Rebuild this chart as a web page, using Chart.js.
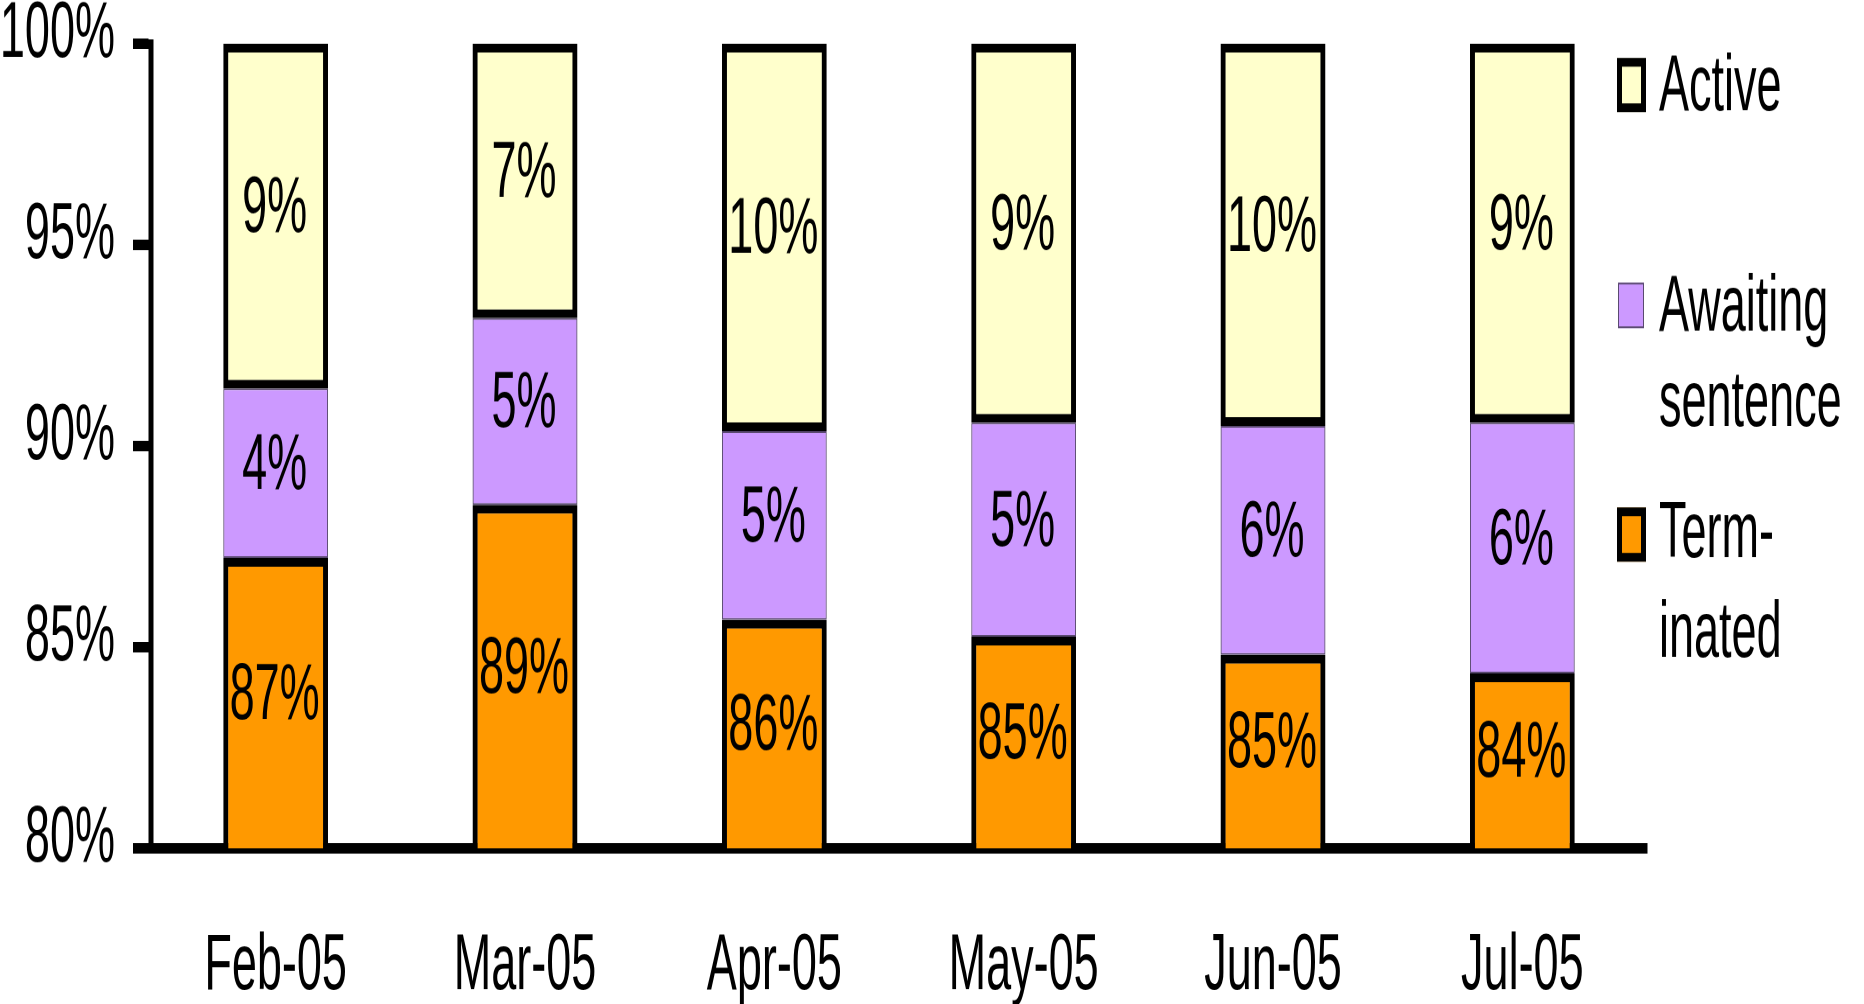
<!DOCTYPE html>
<html>
<head>
<meta charset="utf-8">
<script src="https://cdn.jsdelivr.net/npm/chart.js@4.4.1/dist/chart.umd.min.js"></script>
<style>
  html, body { margin: 0; padding: 0; background: #fff; overflow: hidden; }
</style>
</head>
<body>
<!-- the original picture is stretched vertically: draw it short, show it tall -->
<canvas id="chart" width="1864" height="574" style="display:block;width:1864px;height:1004px"></canvas>
<script>
const months = ['Feb-05', 'Mar-05', 'Apr-05', 'May-05', 'Jun-05', 'Jul-05'];
const terminated = [87.22, 88.54, 85.68, 85.26, 84.81, 84.35];
const awaiting   = [4.21, 4.64, 4.69, 5.32, 5.69, 6.23];
const active     = [8.57, 6.82, 9.63, 9.42, 9.5, 9.42];
const yTicks = [80, 85, 90, 95, 100];
const legendLines = [['Active'], ['Awaiting', 'sentence'], ['Term-', 'inated']];

const FONT = "'Liberation Sans', Arial, sans-serif";
const FONT_SIZE = 45;

// percent label in the middle of the visible part of each segment
const segmentLabels = {
  id: 'segmentLabels',
  afterDatasetsDraw(chart) {
    const { ctx, chartArea } = chart;
    ctx.save();
    ctx.font = `${FONT_SIZE}px ${FONT}`;
    ctx.fillStyle = '#000';
    ctx.textAlign = 'center';
    ctx.textBaseline = 'alphabetic';
    chart.data.datasets.forEach((ds, i) => {
      chart.getDatasetMeta(i).data.forEach((bar, j) => {
        const top = Math.max(Math.min(bar.y, bar.base), chartArea.top);
        const bottom = Math.min(Math.max(bar.y, bar.base), chartArea.bottom);
        ctx.fillText(Math.round(ds.data[j]) + '%', bar.x - 1, (top + bottom) / 2 + 9);
      });
    });
    ctx.restore();
  }
};

// legend on the right, labels wrapped onto two lines
const sideLegend = {
  id: 'sideLegend',
  afterDraw(chart) {
    const { ctx } = chart;
    const boxY = [48.6, 174.6, 305.6];
    const baseY = [[62.9], [189.2, 243.5], [318.5, 375.5]];
    const boxX = 1617, textX = 1659;
    const sets = chart.data.datasets.slice().reverse();
    ctx.save();
    ctx.font = `${FONT_SIZE}px ${FONT}`;
    ctx.textAlign = 'left';
    ctx.textBaseline = 'alphabetic';
    sets.forEach((ds, i) => {
      const bw = ds.borderWidth;
      const w = bw > 1 ? 29 : 26;
      const h = bw > 1 ? 31 : 26;
      const x = boxX + (bw > 1 ? 0 : 1);
      const y = boxY[i] - h / 2;
      ctx.fillStyle = ds.backgroundColor;
      ctx.fillRect(x, y, w, h);
      ctx.lineWidth = bw;
      ctx.strokeStyle = ds.borderColor;
      ctx.strokeRect(x + bw / 2, y + bw / 2, w - bw, h - bw);
      ctx.fillStyle = '#000';
      legendLines[i].forEach((line, k) => ctx.fillText(line, textX, baseY[i][k]));
    });
    ctx.restore();
  }
};

const canvas = document.getElementById('chart');
new Chart(canvas, {
  type: 'bar',
  data: {
    labels: months,
    datasets: [
      { label: 'Terminated', data: terminated, backgroundColor: '#FF9900', borderColor: '#000', borderWidth: 5, borderSkipped: false },
      { label: 'Awaiting sentence', data: awaiting, backgroundColor: '#CC99FF', borderColor: '#5a4a70', borderWidth: 1, borderSkipped: false },
      { label: 'Active', data: active, backgroundColor: '#FFFFCC', borderColor: '#000', borderWidth: 5, borderSkipped: false }
    ]
  },
  options: {
    responsive: false,
    animation: false,
    devicePixelRatio: 2,
    layout: { padding: { top: 25, right: 217, bottom: 0, left: 0 } },
    datasets: { bar: { categoryPercentage: 1, barPercentage: 0.42, clip: 0 } },
    plugins: { legend: { display: false }, tooltip: { enabled: false } },
    scales: {
      x: {
        stacked: true,
        grid: { display: false, drawTicks: false },
        border: { display: true, color: '#000', width: 6 },
        ticks: { color: '#000', font: { family: FONT, size: FONT_SIZE }, padding: 41, maxRotation: 0, autoSkip: false },
        afterFit: s => { s.height = 89; }
      },
      y: {
        stacked: true,
        min: 80,
        max: 100,
        afterBuildTicks: s => { s.ticks = yTicks.map(v => ({ value: v })); },
        grid: { drawOnChartArea: false, drawTicks: true, tickLength: 18, tickWidth: 6, tickColor: '#000' },
        border: { display: true, color: '#000', width: 5 },
        ticks: { color: '#000', font: { family: FONT, size: FONT_SIZE }, padding: 18, labelOffset: -5, callback: v => v + '%' },
        afterFit: s => { s.width = 151; s.paddingTop = 0; s.paddingBottom = 0; }
      }
    }
  },
  plugins: [segmentLabels, sideLegend]
});
// keep the stretched display size
canvas.style.width = '1864px';
canvas.style.height = '1004px';
</script>
</body>
</html>
